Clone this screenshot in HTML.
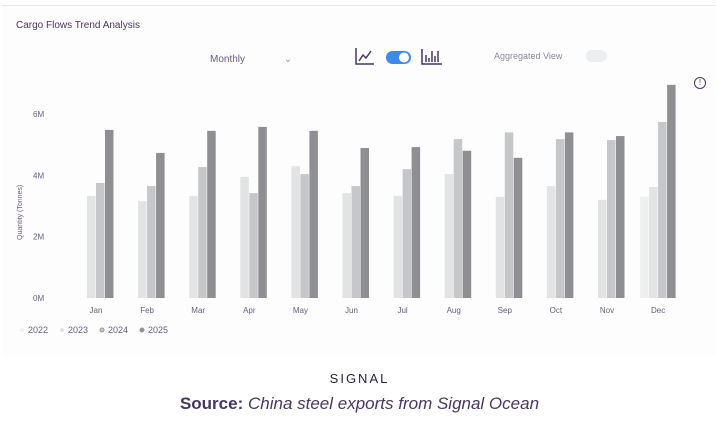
<!DOCTYPE html>
<html><head><meta charset="utf-8"><style>
body{margin:0;width:719px;height:431px;background:#fff;font-family:"Liberation Sans",sans-serif;overflow:hidden;position:relative}
.t{position:absolute;color:#4a3560;white-space:nowrap}
</style></head><body>
<div style="position:absolute;left:2px;top:5px;width:714px;height:350px;border-top:1px solid #e6e6ea;background:#fdfdfe"></div>
<div class="t" style="left:16px;top:20px;font-size:10px">Cargo Flows Trend Analysis</div>
<div class="t" style="left:210px;top:54px;font-size:10px;color:#6a5a80">Monthly <span style="margin-left:36px;color:#999">⌄</span></div>
<svg style="position:absolute;left:354px;top:46px" width="90" height="22">
<path d="M2 2V18H20M5 15L9 9L12 12L17 5" stroke="#4a3560" stroke-width="1.5" fill="none"/>
<rect x="32" y="5" width="25" height="13" rx="6.5" fill="#3d8be6"/><circle cx="50" cy="11.5" r="5" fill="#fff"/>
<path d="M68 3V18H88M72 16V9M75 16V12M78 16V5M81 16V10M84 16V5" stroke="#4a3560" stroke-width="1.5" fill="none"/>
</svg>
<div class="t" style="left:494px;top:51px;font-size:9px;color:#8a8a96">Aggregated View</div>
<div style="position:absolute;left:586px;top:50px;width:21px;height:12px;border-radius:6px;background:#eceef0"></div>
<div class="t" style="left:694px;top:77px;width:10px;height:10px;border:1.3px solid #4a3560;border-radius:50%;font-size:8px;line-height:10px;text-align:center">!</div>
<svg id="chart" style="position:absolute;left:0;top:0" width="719" height="431"></svg>
<div class="t" style="left:0;width:719px;text-align:center;top:371px;font-size:13px;letter-spacing:2px;color:#2a1f3a">SIGNAL</div>
<div class="t" style="left:0;width:719px;text-align:center;top:394px;font-size:17px;color:#4a3560"><b>Source:</b> <i>China steel exports from Signal Ocean</i></div>
<script>
const months=["Jan","Feb","Mar","Apr","May","Jun","Jul","Aug","Sep","Oct","Nov","Dec"];
const years=["2022","2023","2024","2025"];
const v2022=[0,0,0,0,0,0,0,0,0,0,0,3.3];
const v2023=[3.33,3.16,3.33,3.95,4.3,3.42,3.33,4.04,3.3,3.65,3.2,3.62];
const v2024=[3.75,3.65,4.27,3.42,4.04,3.65,4.2,5.18,5.4,5.18,5.15,5.74];
const v2025=[5.48,4.73,5.45,5.58,5.45,4.89,4.92,4.8,4.57,5.4,5.28,6.95];
const yTicks=[0,2,4,6];
const series=[v2022,v2023,v2024,v2025];
const colors=["#eef0f0","#e2e4e4","#c6c7c9","#8f8e92"];
const svg=document.getElementById('chart');const NS="http://www.w3.org/2000/svg";
const y=v=>298-v*30.67;const x=i=>78+i*51.1;
function mk(t,a){const e=document.createElementNS(NS,t);for(const k in a)e.setAttribute(k,a[k]);svg.appendChild(e);return e;}
yTicks.forEach(t=>{const e=mk('text',{x:33,y:y(t)+3,'font-size':8,fill:'#6a5a80'});e.textContent=t+'M';

});
const yt=mk('text',{x:0,y:0,'font-size':7,fill:'#6a5a80',transform:'translate(22,240) rotate(-90)'});yt.textContent='Quantity (Tonnes)';


months.forEach((m,i)=>{series.forEach((s,k)=>{if(s[i]<=0)return;const r=mk('rect',{x:x(i)+k*9,y:y(s[i]),width:8.5,height:y(0)-y(s[i]),fill:colors[k]});

});
const l=mk('text',{x:x(i)+18,y:313,'font-size':8,fill:'#6a5a80','text-anchor':'middle'});l.textContent=m;

});
years.forEach((yy,k)=>{const g=mk('circle',{cx:22+k*40,cy:330,r:2,fill:colors[k],stroke:k>1?'#999':'none'});


const e=mk('text',{x:28+k*40,y:333,'font-size':9,fill:'#6a5a80'});e.textContent=yy;

});
</script>
</body></html>
